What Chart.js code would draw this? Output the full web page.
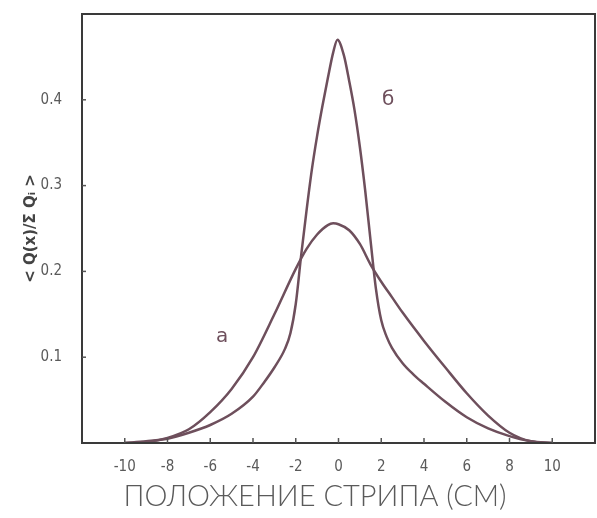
<!DOCTYPE html>
<html><head><meta charset="utf-8">
<script src="https://cdn.jsdelivr.net/npm/chart.js@4.4.1/dist/chart.umd.min.js"></script>
<style>html,body{margin:0;padding:0;background:#fff}</style>
</head><body>
<canvas id="c" width="597" height="518"></canvas>
<script>
// curve "а" (wide distribution)
const xA = [-10, -9, -8, -7, -6, -5, -4, -3, -2, -1.5, -1, -0.5, -0.25, 0, 0.5, 1, 1.5, 2, 2.5, 3, 4, 5, 6, 7, 8, 9, 10];
const yA = [0.0, 0.001, 0.006, 0.016, 0.036, 0.063, 0.100, 0.150, 0.203, 0.226, 0.243, 0.254, 0.256, 0.255, 0.248, 0.232, 0.208, 0.188, 0.170, 0.152, 0.119, 0.088, 0.058, 0.032, 0.012, 0.002, 0.0];
// curve "б" (narrow distribution)
const xB = [-10, -9, -8, -7, -6, -5, -4, -3.5, -3, -2.5, -2.25, -2, -1.75, -1.5, -1.25, -1, -0.75, -0.5, -0.25, -0.05, 0.25, 0.5, 0.75, 1, 1.25, 1.5, 1.75, 2, 2.25, 2.5, 3, 3.5, 4, 5, 6, 7, 8, 9, 10];
const yB = [0.0, 0.002, 0.005, 0.012, 0.021, 0.034, 0.054, 0.070, 0.088, 0.110, 0.128, 0.162, 0.218, 0.270, 0.318, 0.358, 0.393, 0.425, 0.455, 0.470, 0.452, 0.422, 0.388, 0.345, 0.294, 0.236, 0.180, 0.143, 0.124, 0.111, 0.093, 0.080, 0.069, 0.048, 0.030, 0.017, 0.008, 0.002, 0.0];
const xTicks = [-10, -8, -6, -4, -2, 0, 2, 4, 6, 8, 10];
const yTicks = [0.1, 0.2, 0.3, 0.4];
const curveLabels = [{text: 'а', x: -5.45, y: 0.124}, {text: 'б', x: 2.32, y: 0.40}];
const xTitle = 'ПОЛОЖЕНИЕ СТРИПА (СМ)';
const yTitle = '< Q(x)/Σ Qᵢ >';

const lineColor = '#6e4f5c';
const textColor = '#5a5a5a';

const framePlugin = {
  id: 'frame',
  afterDatasetsDraw(chart) {
    const {ctx, chartArea: a, scales} = chart;
    ctx.save();
    ctx.strokeStyle = '#3a3a3a';
    ctx.lineWidth = 2;
    ctx.strokeRect(a.left, a.top, a.right - a.left, a.bottom - a.top);
    ctx.lineWidth = 1.5;
    ctx.strokeStyle = '#555';
    xTicks.forEach(v => {
      const px = scales.x.getPixelForValue(v);
      ctx.beginPath(); ctx.moveTo(px, a.bottom); ctx.lineTo(px, a.bottom - 5); ctx.stroke();
    });
    yTicks.forEach(v => {
      const py = scales.y.getPixelForValue(v);
      ctx.beginPath(); ctx.moveTo(a.left, py); ctx.lineTo(a.left + 4, py); ctx.stroke();
    });
    ctx.fillStyle = lineColor;
    ctx.font = '20px "DejaVu Sans", sans-serif';
    ctx.textAlign = 'center';
    ctx.textBaseline = 'middle';
    curveLabels.forEach(l => {
      ctx.fillText(l.text, scales.x.getPixelForValue(l.x), scales.y.getPixelForValue(l.y));
    });
    // x axis title (offset left of the plot centre, as in the original)
    ctx.fillStyle = textColor;
    ctx.font = '300 29px Lato, sans-serif';
    ctx.fillText(xTitle, 315, 497);
    ctx.restore();
  }
};

const mk = (xs, ys) => xs.map((x, i) => ({x, y: ys[i]}));

new Chart(document.getElementById('c'), {
  type: 'scatter',
  data: {
    datasets: [
      {label: 'а', data: mk(xA, yA), showLine: true, borderColor: lineColor, borderWidth: 2.5, pointRadius: 0, tension: 0.4, cubicInterpolationMode: 'monotone', fill: false},
      {label: 'б', data: mk(xB, yB), showLine: true, borderColor: lineColor, borderWidth: 2.5, pointRadius: 0, tension: 0.4, cubicInterpolationMode: 'monotone', fill: false}
    ]
  },
  options: {
    responsive: false,
    animation: false,
    events: [],
    layout: {padding: {top: 14, right: 2, left: 0, bottom: 0}},
    plugins: {legend: {display: false}, tooltip: {enabled: false}},
    scales: {
      x: {
        type: 'linear', min: -12, max: 12,
        afterBuildTicks: s => { s.ticks = xTicks.map(v => ({value: v})); },
        afterFit: s => { s.height = 75; },
        grid: {display: false}, border: {display: false},
        ticks: {color: textColor, padding: 7, font: {family: '"DejaVu Sans Condensed", "DejaVu Sans", sans-serif', size: 15}, callback: v => String(v)},
        title: {display: false}
      },
      y: {
        type: 'linear', min: 0, max: 0.5,
        afterBuildTicks: s => { s.ticks = yTicks.map(v => ({value: v})); },
        afterFit: s => { s.width = 82; s.paddingTop = 0; s.paddingBottom = 0; },
        grid: {display: false}, border: {display: false},
        ticks: {color: textColor, padding: 12, font: {family: '"DejaVu Sans Condensed", "DejaVu Sans", sans-serif', size: 15}, callback: v => v.toFixed(1)},
        title: {display: true, text: yTitle, color: '#444', padding: {top: 22, bottom: 0}, font: {family: '"DejaVu Sans", sans-serif', size: 15, weight: 'bold'}}
      }
    }
  },
  plugins: [framePlugin]
});
</script>
</body></html>
